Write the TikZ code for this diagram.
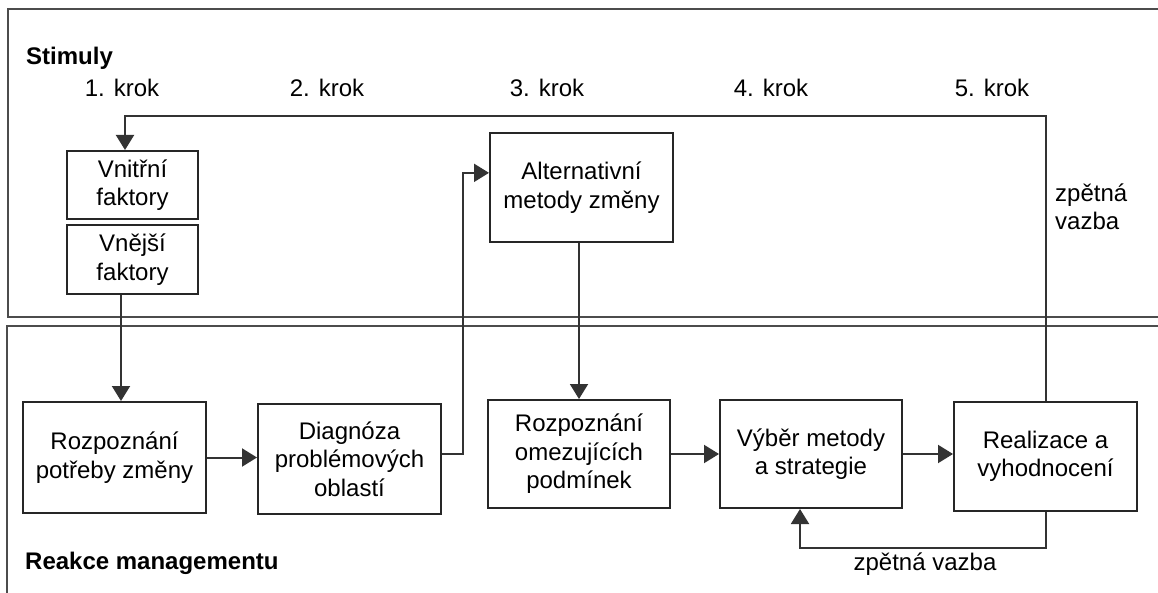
\documentclass[tikz,border=0pt]{standalone}
\usepackage{fontspec}
\setmainfont{Liberation Sans}
\usetikzlibrary{arrows.meta}
\tikzset{
  panel/.style={draw=black!70, line width=2pt},
  box/.style={draw=black!85, line width=2pt, align=center, inner sep=0pt,
    font=\fontsize{24}{28.5}\selectfont},
  lbl/.style={inner sep=0pt, font=\fontsize{24}{28.5}\selectfont},
  bold/.style={inner sep=0pt, font=\fontsize{24}{28.5}\selectfont\bfseries},
  conn/.style={draw=black!80, line width=2pt},
  arr/.style={conn, -{Triangle[length=15pt,width=18pt]}}
}
\begin{document}
\begin{tikzpicture}[x=1pt,y=-1pt]
\clip (0,0) rectangle (1158,593);
\fill[white] (0,0) rectangle (1158,593);
% panels
\draw[panel] (8,9) rectangle (1175,317);
\draw[panel] (7,326) rectangle (1175,620);
% titles
\node[bold, anchor=west] (stim) at (26,58) {Stimuly};
\node[bold, anchor=west] (reak) at (25,563) {Reakce managementu};
% steps
\node[lbl] (k1) at (122,88) {1. krok};
\node[lbl] (k2) at (327,88) {2. krok};
\node[lbl] (k3) at (547,88) {3. krok};
\node[lbl] (k4) at (771,88) {4. krok};
\node[lbl] (k5) at (992,88) {5. krok};
% boxes
\node[box, minimum width=131pt, minimum height=68pt] (vnitrni) at (132.5,185) {Vnitřní\\faktory};
\node[box, minimum width=131pt, minimum height=69pt] (vnejsi) at (132.5,259.5) {Vnější\\faktory};
\node[box, minimum width=183pt, minimum height=109pt] (alt) at (581.5,187.5) {Alternativní\\metody změny};
\node[box, minimum width=183pt, minimum height=111pt] (rozp) at (114.5,457.5) {Rozpoznání\\potřeby změny};
\node[box, minimum width=183pt, minimum height=110pt] (diag) at (349.5,459) {Diagnóza\\problémových\\oblastí};
\node[box, minimum width=182pt, minimum height=108pt] (omez) at (579,454) {Rozpoznání\\omezujících\\podmínek};
\node[box, minimum width=182pt, minimum height=108pt] (vyber) at (811,454) {Výběr metody\\a strategie};
\node[box, minimum width=183pt, minimum height=109pt] (real) at (1045.5,456.5) {Realizace a\\vyhodnocení};
% feedback labels
\node[lbl, anchor=west, align=left] (fbr) at (1055,207) {zpětná\\vazba};
\node[lbl] (fbb) at (925,564) {zpětná vazba};
% helper coordinates
\coordinate (fbtop) at (125,116);
\coordinate (ext) at (121,0);
\coordinate (fbbot) at (800,548);
% connectors
\draw[arr] (real.north) |- (fbtop) -- (fbtop |- vnitrni.north);
\draw[arr] (vnejsi.south -| ext) -- (rozp.north -| ext);
\draw[arr] (rozp.east) -- (rozp.east -| diag.west);
\draw[arr] (diag.3) -- ++(21,0) |- (alt.171);
\draw[arr] (alt.south -| omez.north) -- (omez.north);
\draw[arr] (omez.east) -- (omez.east -| vyber.west);
\draw[arr] (vyber.east) -- (vyber.east -| real.west);
\draw[arr] (real.south) |- (fbbot) -- (fbbot |- vyber.south);
\end{tikzpicture}
\end{document}
